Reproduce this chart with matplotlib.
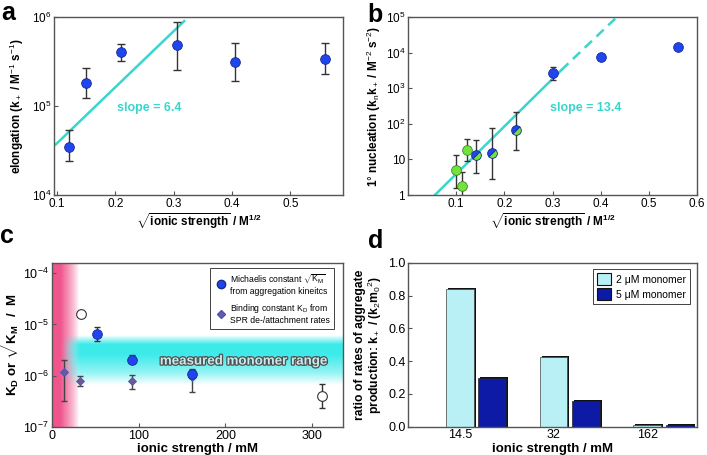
import matplotlib
matplotlib.use('Agg')
import matplotlib.pyplot as plt
import numpy as np
from matplotlib.markers import MarkerStyle
from matplotlib.transforms import Affine2D
from matplotlib.lines import Line2D
from matplotlib.patches import Patch
import matplotlib.patheffects as pe

plt.rcParams['font.family'] = ['Liberation Sans', 'DejaVu Sans']
plt.rcParams['mathtext.fontset'] = 'custom'
plt.rcParams['mathtext.rm'] = 'Liberation Sans'
plt.rcParams['mathtext.it'] = 'Liberation Sans'
plt.rcParams['mathtext.bf'] = 'Liberation Sans:bold'

# panel a: elongation
a_x = [0.12, 0.15, 0.21, 0.305, 0.405, 0.56]
a_y = [3.5e4, 1.83e5, 4.0e5, 4.8e5, 3.1e5, 3.4e5]
a_hi = [5.4e4, 2.7e5, 5.0e5, 8.9e5, 5.1e5, 5.1e5]
a_lo = [2.4e4, 1.22e5, 3.2e5, 2.56e5, 1.92e5, 2.3e5]
a_fit_x = [0.098, 0.318]
a_fit_y = [3.7e4, 9.0e5]

# panel b: primary nucleation
bg_x = [0.10, 0.112, 0.123]
bg_y = [5.0, 1.8, 18]
bg_hi = [13, 4.5, 37]
bg_lo = [1.6, 0.9, 9.0]
bh_x = [0.142, 0.175, 0.225]
bh_y = [13, 15, 68]
bh_hi = [35, 75, 210]
bh_lo = [4.2, 2.8, 18.5]
bb_x = [0.30, 0.40, 0.56]
bb_y = [2650, 7600, 14000]
bb_err_x = [0.30]
bb_err_y = [2650]
bb_hi = [3900]
bb_lo = [1650]
b_fit_x = [0.056, 0.318]
b_fit_y = [1.0, 3200]
b_dash_x = [0.318, 0.43]
b_dash_y = [3200, 90000]

# panel c: binding constants
cm_x = [52.5, 92, 162]
cm_y = [6.6e-6, 2.07e-6, 1.07e-6]
cm_hi = [8.9e-6, 2.5e-6, 1.3e-6]
cm_lo = [4.8e-6, 1.77e-6, 0.89e-6]
co_x = [33.4, 311]
co_y = [1.63e-5, 4.1e-7]
co_err_x = [311]
co_err_y = [4.1e-7]
co_hi = [6.9e-7]
co_lo = [2.4e-7]
cd_x = [14.5, 32.6, 92, 162]
cd_y = [1.19e-6, 7.9e-7, 7.8e-7, 9.5e-7]
cd_hi = [2.07e-6, 1.0e-6, 1.04e-6, 1.35e-6]
cd_lo = [3.2e-7, 6.3e-7, 5.5e-7, 4.9e-7]
pink_end = 30
band_lo, band_hi = 6.5e-7, 6.0e-6

# panel d: ratio of rates
d_cats = ['14.5', '32', '162']
d_2uM = [0.837, 0.426, 0.01]
d_5uM = [0.299, 0.154, 0.01]

blue = '#1f45f0'
blue_edge = '#1a2a90'
green = '#72e23e'
green_edge = '#3a8a20'
turq = '#38d6cc'
ecol = '#333333'
spine_col = '#555555'

fig = plt.figure(figsize=(7.07, 4.55), dpi=100)
ax_a = fig.add_axes([0.0764, 0.5714, 0.4087, 0.3912])
ax_b = fig.add_axes([0.577, 0.5714, 0.409, 0.3912])
ax_c = fig.add_axes([0.0731, 0.0609, 0.4116, 0.3617])
ax_d = fig.add_axes([0.5775, 0.0622, 0.4088, 0.3604])


def style(ax, size=8):
    for s in ax.spines.values():
        s.set_color(spine_col)
        s.set_linewidth(1.0)
    ax.tick_params(direction='in', length=3, width=0.8, color=spine_col,
                   labelsize=size, pad=2)
    ax.minorticks_off()


def errs(y, lo, hi):
    y = np.array(y)
    return [y - np.array(lo), np.array(hi) - y]


xlab_sqrt = r'$\sqrt{\mathbf{ionic\ strength}}$ / M$^{\mathbf{1/2}}$'

# ---- a ----
ax = ax_a
ax.set_yscale('log')
ax.plot(a_fit_x, a_fit_y, color=turq, lw=1.8, zorder=2)
ax.errorbar(a_x, a_y, yerr=errs(a_y, a_lo, a_hi), fmt='none', ecolor=ecol,
            elinewidth=1, capsize=3, capthick=1, zorder=3)
ax.plot(a_x, a_y, 'o', ms=7, mfc=blue, mec=blue_edge, mew=0.6, zorder=4)
ax.set_xlim(0.095, 0.59)
ax.set_ylim(1e4, 1e6)
ax.set_xticks([0.1, 0.2, 0.3, 0.4, 0.5])
ax.set_yticks([1e4, 1e5, 1e6])
ax.set_yticklabels(['$10^4$', '$10^5$', '$10^6$'])
style(ax, 8.5)
ax.text(0.203, 9.5e4, 'slope = 6.4', color=turq, fontsize=9, fontweight='bold',
        va='center')
ax.set_ylabel(r'elongation (k$_+$ / M$^{-1}$ s$^{-1}$)', fontsize=8.5,
              fontweight='bold', labelpad=4)
ax.set_xlabel(xlab_sqrt, fontsize=8.5, fontweight='bold', labelpad=1)

# ---- b ----
ax = ax_b
ax.set_yscale('log')
ax.plot(b_fit_x, b_fit_y, color=turq, lw=1.8, zorder=2)
ax.plot(b_dash_x, b_dash_y, color=turq, lw=1.8, ls=(0, (4, 2.5)), zorder=2)
ax.errorbar(bg_x, bg_y, yerr=errs(bg_y, bg_lo, bg_hi), fmt='none', ecolor=ecol,
            elinewidth=1, capsize=2.5, capthick=1, zorder=3)
ax.errorbar(bh_x, bh_y, yerr=errs(bh_y, bh_lo, bh_hi), fmt='none', ecolor=ecol,
            elinewidth=1, capsize=2.5, capthick=1, zorder=3)
ax.errorbar(bb_err_x, bb_err_y, yerr=errs(bb_err_y, bb_lo, bb_hi), fmt='none',
            ecolor=ecol, elinewidth=1, capsize=2.5, capthick=1, zorder=3)
ax.plot(bg_x, bg_y, 'o', ms=7, mfc=green, mec=green_edge, mew=0.6, zorder=4)
half = MarkerStyle('o', fillstyle='top', transform=Affine2D().rotate_deg(45))
ax.plot(bh_x, bh_y, ls='none', marker=half, ms=7, mfc=blue, mfcalt=green,
        mec=blue_edge, mew=0.6, zorder=4)
ax.plot(bb_x, bb_y, 'o', ms=7, mfc=blue, mec=blue_edge, mew=0.6, zorder=4)
ax.set_xlim(0, 0.6)
ax.set_ylim(1, 1e5)
ax.set_xticks([0.1, 0.2, 0.3, 0.4, 0.5, 0.6])
ax.set_yticks([1, 10, 1e2, 1e3, 1e4, 1e5])
ax.set_yticklabels(['1', '10', '$10^2$', '$10^3$', '$10^4$', '$10^5$'])
style(ax, 8.5)
ax.text(0.294, 270, 'slope = 13.4', color=turq, fontsize=9, fontweight='bold',
        va='center')
ax.set_ylabel(r'1$\degree$ nucleation (k$_n$k$_+$ / M$^{-2}$ s$^{-2}$)',
              fontsize=8.5, fontweight='bold', labelpad=2)
ax.set_xlabel(xlab_sqrt, fontsize=8.5, fontweight='bold', labelpad=1)

# ---- c ----
ax = ax_c
ax.set_yscale('log')
c_xlim = (0, 335)
c_ylim = (1e-7, 10 ** -3.8)
ax.set_xlim(*c_xlim)
ax.set_ylim(*c_ylim)


def yfrac(v):
    return (np.log10(v) - np.log10(c_ylim[0])) / (np.log10(c_ylim[1]) - np.log10(c_ylim[0]))


def xfrac(v):
    return (v - c_xlim[0]) / (c_xlim[1] - c_xlim[0])


# pink low-ionic-strength region
xs = np.linspace(0, pink_end, 100)
pa = np.clip((pink_end - xs) / (pink_end - 9), 0, 1) ** 0.8
pink = np.zeros((2, 100, 4))
pink[..., 0] = 0.94
pink[..., 1] = 0.33
pink[..., 2] = 0.55
pink[..., 3] = pa
ax.imshow(pink, extent=[0, xfrac(pink_end), 0, 1], transform=ax.transAxes,
          aspect='auto', zorder=0, interpolation='bilinear')

# cyan monomer range band
ly = np.linspace(np.log10(band_lo), np.log10(band_hi), 200)
prof = np.interp(ly, [np.log10(band_lo), -5.95, -5.6, -5.4, np.log10(band_hi)],
                 [0, 0.55, 1.0, 1.0, 0])
bx = np.linspace(12, c_xlim[1], 300)
xa = np.clip((bx - 12) / 20, 0, 1)
band = np.zeros((200, 300, 4))
band[..., 0] = 0.24
band[..., 1] = 0.92
band[..., 2] = 0.92
band[..., 3] = prof[:, None] * xa[None, :]
ax.imshow(band, extent=[xfrac(12), 1, yfrac(band_lo), yfrac(band_hi)],
          transform=ax.transAxes, aspect='auto', origin='lower', zorder=0,
          interpolation='bilinear')

ax.errorbar(cd_x, cd_y, yerr=errs(cd_y, cd_lo, cd_hi), fmt='none', ecolor='#444444',
            elinewidth=1, capsize=2.5, capthick=1, zorder=3)
ax.errorbar(cm_x, cm_y, yerr=errs(cm_y, cm_lo, cm_hi), fmt='none', ecolor=ecol,
            elinewidth=1, capsize=2.5, capthick=1, zorder=3)
ax.errorbar(co_err_x, co_err_y, yerr=errs(co_err_y, co_lo, co_hi), fmt='none',
            ecolor=ecol, elinewidth=1, capsize=2.5, capthick=1, zorder=3)
ax.plot(cd_x, cd_y, 'D', ms=4, mfc='#6a5a96', mec='#4a52c0', mew=0.6, zorder=4)
ax.plot(cm_x, cm_y, 'o', ms=7, mfc=blue, mec=blue_edge, mew=0.6, zorder=5)
ax.plot(co_x, co_y, 'o', ms=7, mfc='white', mec='#333333', mew=0.8, zorder=5)
ax.text(221, 1.9e-6, 'measured monomer range', fontsize=9.6, fontweight='bold',
        color='#c8ecec', ha='center', va='center', zorder=6,
        path_effects=[pe.withStroke(linewidth=1.8, foreground='#505050')])
ax.set_xticks([0, 100, 200, 300])
ax.set_yticks([1e-7, 1e-6, 1e-5, 1e-4])
ax.set_yticklabels(['$10^{-7}$', '$10^{-6}$', '$10^{-5}$', '$10^{-4}$'])
style(ax, 9)
ax.set_ylabel(r'K$_\mathbf{D}$ or $\sqrt{\mathbf{K_M}}$  /  M', fontsize=9.5,
              fontweight='bold', labelpad=1)
ax.set_xlabel('ionic strength / mM', fontsize=9.5, fontweight='bold', labelpad=1)
handles = [Line2D([], [], ls='none', marker='o', ms=6, mfc=blue, mec=blue_edge),
           Line2D([], [], ls='none', marker='D', ms=4, mfc='#6a5a96', mec='#4a52c0')]
labels = ['Michaelis constant $\\sqrt{\\mathrm{K_M}}$\nfrom aggregation kineitcs',
          'Binding constant K$_\\mathrm{D}$ from\nSPR de-/attachment rates']
leg = ax.legend(handles, labels, loc='upper right', fontsize=6.2, fancybox=False,
                edgecolor='#222222', framealpha=1, handletextpad=0.3,
                handlelength=1.6, borderpad=0.45, labelspacing=0.7,
                borderaxespad=0, bbox_to_anchor=(0.97, 0.967))
leg.get_frame().set_linewidth(0.6)

# ---- d ----
ax = ax_d
pos = np.arange(len(d_cats))
w = 0.296
off = 0.345
ax.bar(pos + 0.02, np.array(d_2uM) + 0.006, width=w, color='#111111', zorder=1)
ax.bar(pos + off + 0.02, np.array(d_5uM) + 0.006, width=w, color='#111111', zorder=1)
ax.bar(pos, d_2uM, width=w, color='#b8f0f6', edgecolor='#444444', lw=0.5, zorder=2)
ax.bar(pos + off, d_5uM, width=w, color='#0c1aa6', edgecolor='#222222', lw=0.5, zorder=2)
ax.set_xlim(-0.552, 2.535)
ax.set_ylim(0, 1.0)
ax.set_xticks(pos)
ax.set_xticklabels(d_cats)
ax.set_yticks([0, 0.2, 0.4, 0.6, 0.8, 1.0])
ax.set_yticklabels(['0.0', '0.2', '0.4', '0.6', '0.8', '1.0'])
style(ax, 9)
ax.tick_params(axis='x', length=0)
ax.set_ylabel('ratio of rates of aggregate\n' + r'production: k$_+$ / (k$_2$m$_0$$^2$)',
              fontsize=8.7, fontweight='bold', labelpad=3, linespacing=1.0)
ax.set_xlabel('ionic strength / mM', fontsize=9.5, fontweight='bold', labelpad=1)
dh = [Patch(facecolor='#b8f0f6', edgecolor='#111111', lw=0.8),
      Patch(facecolor='#0c1aa6', edgecolor='#111111', lw=0.8)]
leg = ax.legend(dh, [u'2 \u03bcM monomer', u'5 \u03bcM monomer'], loc='upper right',
                fontsize=7.5, fancybox=False, edgecolor='#222222', framealpha=1,
                handlelength=1.3, handleheight=1.3, handletextpad=0.5,
                borderpad=0.4, labelspacing=0.35, borderaxespad=0,
                bbox_to_anchor=(0.975, 0.96))
leg.get_frame().set_linewidth(0.6)

# panel letters
for lab, x, y in [('a', 0.002, 0.956), ('b', 0.519, 0.952),
                  ('c', 0.0, 0.466), ('d', 0.521, 0.455)]:
    fig.text(x, y, lab, fontsize=18, fontweight='bold', va='baseline')

fig.savefig('out.png', dpi=100)
